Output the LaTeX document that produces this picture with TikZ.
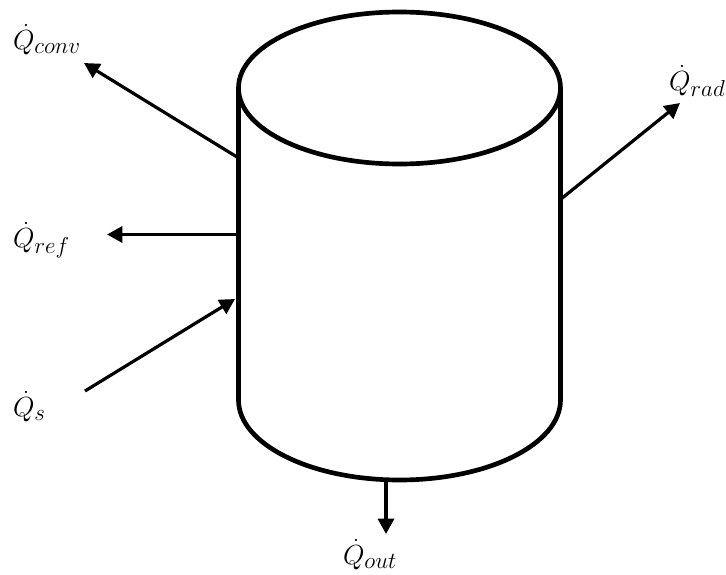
\documentclass[tikz,border=0pt]{standalone}
\usetikzlibrary{arrows.meta}
\DeclareMathSizes{22}{22}{17}{13}
\tikzset{
  px/.style={x=0.75pt,y=-0.75pt},
  body/.style={line width=3.5pt,line join=round},
  flow/.style={line width=2.4pt,-{Triangle[length=11.5pt,width=12pt]}},
  lab/.style={inner sep=0pt,outer sep=0pt,anchor=base west,font=\fontsize{22}{24}\selectfont}
}
\begin{document}
\begin{tikzpicture}[px]
\useasboundingbox (0,0) rectangle (726,575);
% cylinder
\draw[body] (399.5,88) ellipse [x radius=161,y radius=76];
\draw[body] (238.5,88) -- (238.5,400) arc [start angle=180,end angle=0,x radius=161,y radius=80] -- (560.5,88);
% anchor points on the cylinder
\coordinate (convS) at (237,157);
\coordinate (refS) at (237,234.5);
\coordinate (sE) at (235,299);
\coordinate (outS) at (386,479);
\coordinate (radS) at (561,199);
% free arrow ends
\coordinate (convE) at (84,63);
\coordinate (refE) at (107,234.5);
\coordinate (sS) at (85,391);
\coordinate (outE) at (386,534);
\coordinate (radE) at (680,103);
% labels
\node[lab] (conv) at (13,49) {$\dot{Q}_{conv}$};
\node[lab] (ref) at (13,247) {$\dot{Q}_{ref}$};
\node[lab] (s) at (13,416) {$\dot{Q}_{s}$};
\node[lab] (out) at (343,564) {$\dot{Q}_{out}$};
\node[lab] (rad) at (669,90) {$\dot{Q}_{rad}$};
% connectors
\draw[flow] (convS) -- (convE);
\draw[flow] (refS) -- (refE);
\draw[flow] (sS) -- (sE);
\draw[flow] (outS) -- (outE);
\draw[flow] (radS) -- (radE);
\end{tikzpicture}
\end{document}
